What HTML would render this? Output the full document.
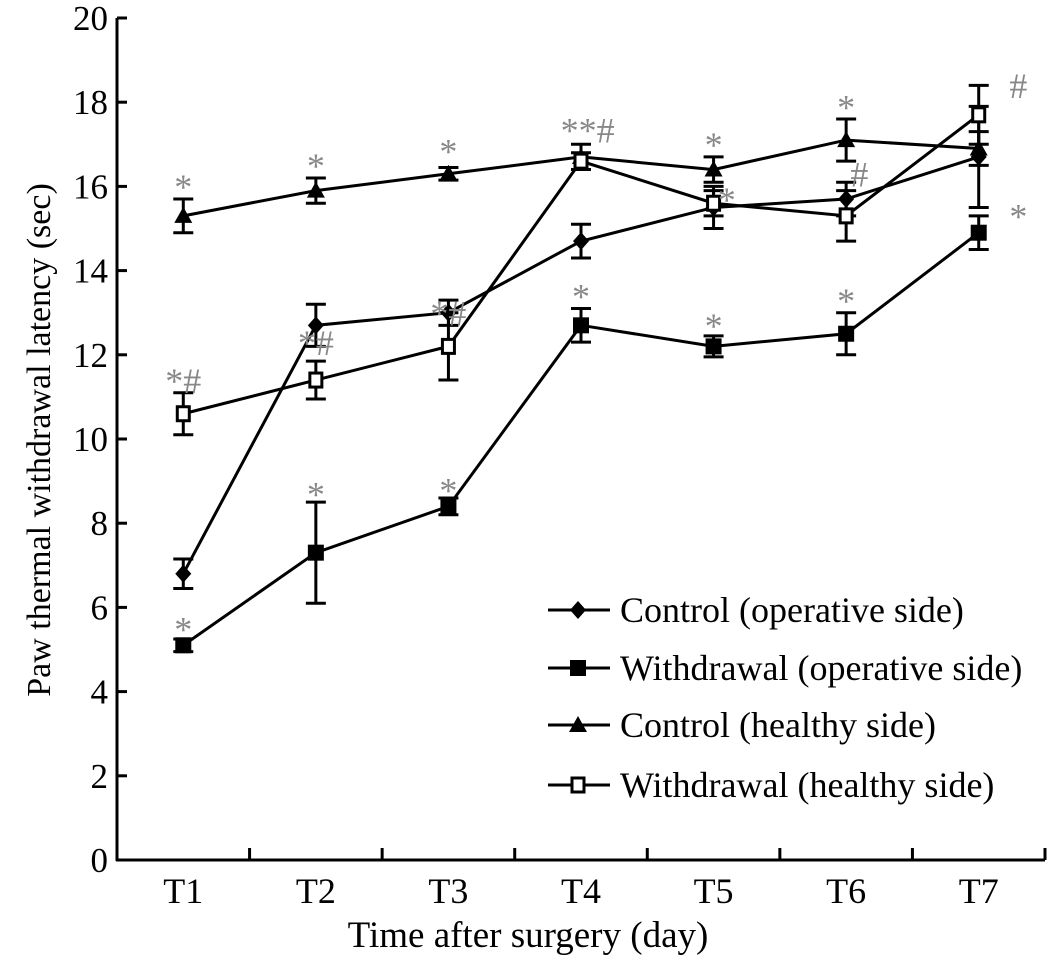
<!DOCTYPE html>
<html><head><meta charset="utf-8"><style>
html,body{margin:0;padding:0;background:#fff;}
svg{display:block;font-family:"Liberation Serif",serif;}
</style></head><body>
<svg id="chart" width="1063" height="968"></svg>
<script>
const categories=["T1","T2","T3","T4","T5","T6","T7"];
const yTicks=[0,2,4,6,8,10,12,14,16,18,20];
const seriesNames=["Control (operative side)","Withdrawal (operative side)","Control (healthy side)","Withdrawal (healthy side)"];
const ctrlOp=[6.8,12.7,13.0,14.7,15.5,15.7,16.7];
const ctrlOpErr=[0.35,0.5,0.3,0.4,0.5,0.4,1.2];
const wdOp=[5.1,7.3,8.4,12.7,12.2,12.5,14.9];
const wdOpErr=[0.15,1.2,0.2,0.4,0.25,0.5,0.4];
const ctrlHe=[15.3,15.9,16.3,16.7,16.4,17.1,16.9];
const ctrlHeErr=[0.4,0.3,0.15,0.3,0.3,0.5,0.4];
const wdHe=[10.6,11.4,12.2,16.6,15.6,15.3,17.7];
const wdHeErr=[0.5,0.45,0.8,0.2,0.3,0.6,0.7];
const markers=["diamond","square","triangle","open"];

const NS="http://www.w3.org/2000/svg";
const svg=document.getElementById("chart");
const X0=117,X1=1045,Y0=860,YT=18;
function xs(i){return X0+(X1-X0)/7*(i+0.5);}
function ys(v){return Y0-(Y0-YT)*v/20;}
function el(tag,attrs,parent){const e=document.createElementNS(NS,tag);for(const k in attrs)e.setAttribute(k,attrs[k]);(parent||svg).appendChild(e);return e;}

const axes=el("g",{});


const ya=el("line",{x1:X0,y1:YT,x2:X0,y2:Y0+1,stroke:"#000","stroke-width":3},axes);


const xa=el("line",{x1:X0-1,y1:Y0,x2:X1,y2:Y0,stroke:"#000","stroke-width":3},axes);


yTicks.forEach(t=>{
  el("line",{x1:X0,y1:ys(t),x2:X0+10,y2:ys(t),stroke:"#000","stroke-width":3},axes);
  const tx=el("text",{x:108,y:ys(t)+12,"text-anchor":"end","font-size":35},axes);
  tx.textContent=t;
  
  
});
for(let i=1;i<=7;i++){const x=X0+(X1-X0)/7*i;el("line",{x1:x,y1:Y0,x2:x,y2:Y0-12,stroke:"#000","stroke-width":3},axes);}
categories.forEach((c,i)=>{
  const tx=el("text",{x:xs(i),y:903,"text-anchor":"middle","font-size":36},axes);
  tx.textContent=c;
  
  
});
const xt=el("text",{x:528,y:947,"text-anchor":"middle","font-size":37});
xt.textContent="Time after surgery (day)";


const yt=el("text",{x:0,y:0,"text-anchor":"middle","font-size":34,transform:"translate(50,440) rotate(-90)"});
yt.textContent="Paw thermal withdrawal latency (sec)";



function marker(type,x,y,g){
  if(type==="diamond")return el("polygon",{points:`${x},${y-9} ${x+8},${y} ${x},${y+9} ${x-8},${y}`,fill:"#000"},g);
  if(type==="square")return el("rect",{x:x-8,y:y-8,width:16,height:16,fill:"#000"},g);
  if(type==="triangle")return el("polygon",{points:`${x},${y-9} ${x+9},${y+7} ${x-9},${y+7}`,fill:"#000"},g);
  return el("rect",{x:x-6,y:y-7,width:12,height:14,fill:"#fff",stroke:"#000","stroke-width":3},g);
}
const allData=[ctrlOp,wdOp,ctrlHe,wdHe];
const allErr=[ctrlOpErr,wdOpErr,ctrlHeErr,wdHeErr];
const sNames=["series-control-operative","series-withdrawal-operative","series-control-healthy","series-withdrawal-healthy"];
allData.forEach((d,s)=>{
  const g=el("g",{});
  
  
  const ln=el("polyline",{points:d.map((v,i)=>xs(i)+","+ys(v)).join(" "),fill:"none",stroke:"#000","stroke-width":3},g);
  
  
  d.forEach((v,i)=>{
    const e=allErr[s][i],x=xs(i);
    el("line",{x1:x,y1:ys(v+e),x2:x,y2:ys(v-e),stroke:"#000","stroke-width":3},g);
    el("line",{x1:x-10,y1:ys(v+e),x2:x+10,y2:ys(v+e),stroke:"#000","stroke-width":3},g);
    el("line",{x1:x-10,y1:ys(v-e),x2:x+10,y2:ys(v-e),stroke:"#000","stroke-width":3},g);
    const m=marker(markers[s],x,ys(v),g);
    
    
  });
});
const sig=[[0,"*",5.1,0],[1,"*",8.3,0],[2,"*",8.4,0],[3,"*",13.0,0],[4,"*",12.3,0],[5,"*",12.9,0],[6,"*",14.9,0.3],
[0,"*",15.6,0],[1,"*",16.1,0],[2,"*",16.45,0],[3,"**#",16.95,0.05],[4,"*",16.6,0],[5,"*",17.5,0],[6,"#",18.0,0.3],
[0,"*#",11.0,0],[1,"*#",11.9,0],[2,"*#",12.6,0],[4,"*",15.3,0.1],[5,"#",15.9,0.1]];
sig.forEach(s=>{
  const t=el("text",{x:xs(s[0])+s[3]*132,y:ys(s[2])-4,"text-anchor":"middle","font-size":36,fill:"#888"});
  t.textContent=s[1];
  
  
});
const lg=el("g",{});


const ly=[610,668,725,785];
seriesNames.forEach((n,i)=>{
  const g=el("g",{},lg);
  
  
  el("line",{x1:548,y1:ly[i],x2:610,y2:ly[i],stroke:"#000","stroke-width":3},g);
  marker(markers[i],578,ly[i],g);
  const t=el("text",{x:620,y:ly[i]+12,"font-size":36},g);
  t.textContent=n;
});
</script>
</body></html>
